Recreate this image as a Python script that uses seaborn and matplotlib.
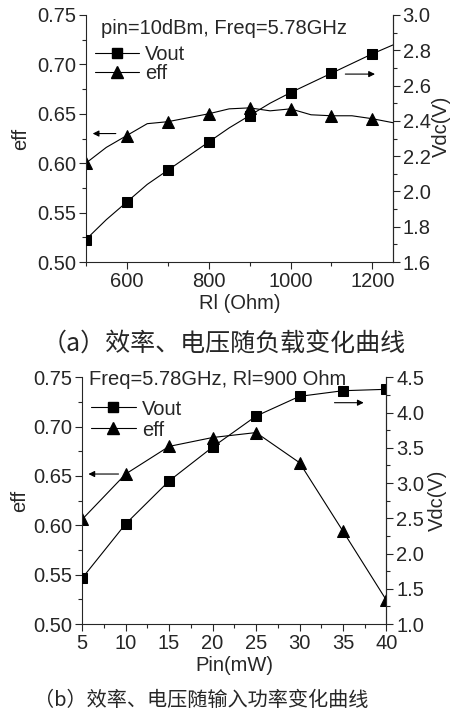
import matplotlib
matplotlib.use("Agg")
import matplotlib.pyplot as plt
from matplotlib.ticker import MultipleLocator, FormatStrFormatter
from matplotlib.lines import Line2D
import seaborn as sns

# (a) load sweep, pin = 10 dBm
rl = [500, 550, 600, 650, 700, 750, 800, 850, 900, 950, 1000, 1050, 1100, 1150, 1200, 1250]
vout_a = [1.727, 1.84, 1.94, 2.04, 2.12, 2.20, 2.28, 2.36, 2.43, 2.50, 2.56, 2.615, 2.67, 2.725, 2.78, 2.83]
eff_a = [0.600, 0.616, 0.628, 0.640, 0.642, 0.646, 0.650, 0.655, 0.656, 0.653, 0.655, 0.649, 0.648, 0.648, 0.645, 0.641]

# (b) input power sweep, Rl = 900 Ohm
pin = [5, 10, 15, 20, 25, 30, 35, 40]
vout_b = [1.65, 2.42, 3.03, 3.51, 3.95, 4.23, 4.31, 4.33]
eff_b = [0.606, 0.652, 0.680, 0.689, 0.694, 0.6635, 0.594, 0.524]

FS = 14.5

sns.set_style("ticks")
plt.rcParams["font.family"] = ["Liberation Sans", "Noto Sans CJK SC", "DejaVu Sans"]
plt.rcParams["font.size"] = FS

fig = plt.figure(figsize=(4.59, 7.13), dpi=100)
ax1 = fig.add_axes([0.187, 0.6325, 0.669, 0.3465])
ax3 = fig.add_axes([0.179, 0.1248, 0.663, 0.346])


def style(ax, ax2):
    for a in (ax, ax2):
        a.spines["top"].set_visible(False)
        a.tick_params(which="major", direction="out", length=5, width=0.8, pad=2, labelsize=FS)
        a.tick_params(which="minor", direction="out", length=3, width=0.8)
        for s in a.spines.values():
            s.set_linewidth(0.8)
    ax2.spines["right"].set_visible(True)
    ax2.spines["left"].set_visible(False)
    ax2.spines["bottom"].set_visible(False)


def draw(ax, x, vout, eff, every):
    ax2 = ax.twinx()
    sns.lineplot(x=x, y=eff, ax=ax, color="black", lw=0.8, marker="^",
                 markersize=8.5, markevery=every, markeredgecolor="black")
    sns.lineplot(x=x, y=vout, ax=ax2, color="black", lw=0.8, marker="s",
                 markersize=7.5, markevery=every, markeredgecolor="black")
    style(ax, ax2)
    return ax2


arrow = dict(arrowstyle="-|>", color="black", lw=0.8, mutation_scale=9)

# ---------------- (a) ----------------
ax2 = draw(ax1, rl, vout_a, eff_a, 2)
ax1.set_xlim(500, 1250)
ax1.set_ylim(0.50, 0.75)
ax2.set_ylim(1.6, 3.0)
ax1.xaxis.set_major_locator(MultipleLocator(200))
ax1.xaxis.set_minor_locator(MultipleLocator(100))
ax1.yaxis.set_major_locator(MultipleLocator(0.05))
ax1.yaxis.set_minor_locator(MultipleLocator(0.025))
ax2.yaxis.set_major_locator(MultipleLocator(0.2))
ax2.yaxis.set_minor_locator(MultipleLocator(0.1))
ax1.yaxis.set_major_formatter(FormatStrFormatter("%.2f"))
ax2.yaxis.set_major_formatter(FormatStrFormatter("%.1f"))
ax1.set_xlabel("Rl (Ohm)", fontsize=FS, labelpad=2)
ax1.set_ylabel("eff", fontsize=FS)
ax1.yaxis.set_label_coords(-0.18, 0.5)
ax2.set_ylabel("Vdc(V)", fontsize=FS, rotation=90)
ax2.yaxis.set_label_coords(1.127, 0.55)
ax1.text(0.051, 0.945, "pin=10dBm, Freq=5.78GHz", transform=ax1.transAxes,
         ha="left", va="center", fontsize=FS)
ax1.annotate("", xy=(510, 0.630), xytext=(580, 0.630), arrowprops=arrow)
ax2.annotate("", xy=(1213, 2.665), xytext=(1127, 2.665), arrowprops=arrow)

handles = [Line2D([], [], color="black", lw=0.8, marker="s", markersize=7.5),
           Line2D([], [], color="black", lw=0.8, marker="^", markersize=8.5)]
ax1.legend(handles, ["Vout", "eff"], loc="upper left", bbox_to_anchor=(0.03, 0.88),
           frameon=False, fontsize=FS, handlelength=2.2, handletextpad=0.3,
           labelspacing=0.0, borderpad=0, borderaxespad=0)

# ---------------- (b) ----------------
ax4 = draw(ax3, pin, vout_b, eff_b, 1)
ax3.set_xlim(5, 40)
ax3.set_ylim(0.50, 0.75)
ax4.set_ylim(1.0, 4.5)
ax3.xaxis.set_major_locator(MultipleLocator(5))
ax3.xaxis.set_minor_locator(MultipleLocator(2.5))
ax3.yaxis.set_major_locator(MultipleLocator(0.05))
ax3.yaxis.set_minor_locator(MultipleLocator(0.025))
ax4.yaxis.set_major_locator(MultipleLocator(0.5))
ax4.yaxis.set_minor_locator(MultipleLocator(0.25))
ax3.yaxis.set_major_formatter(FormatStrFormatter("%.2f"))
ax4.yaxis.set_major_formatter(FormatStrFormatter("%.1f"))
ax3.set_xlabel("Pin(mW)", fontsize=FS, labelpad=2)
ax3.set_ylabel("eff", fontsize=FS)
ax3.yaxis.set_label_coords(-0.175, 0.5)
ax4.set_ylabel("Vdc(V)", fontsize=FS, rotation=90)
ax4.yaxis.set_label_coords(1.136, 0.5)
ax3.text(0.023, 0.99, "Freq=5.78GHz, Rl=900 Ohm", transform=ax3.transAxes,
         ha="left", va="center", fontsize=FS)
ax3.annotate("", xy=(5.4, 0.652), xytext=(9.5, 0.652), arrowprops=arrow)
ax4.annotate("", xy=(37.7, 4.14), xytext=(33.7, 4.14), arrowprops=arrow)
ax3.legend(handles, ["Vout", "eff"], loc="upper left", bbox_to_anchor=(0.03, 0.91),
           frameon=False, fontsize=FS, handlelength=2.2, handletextpad=0.3,
           labelspacing=0.1, borderpad=0, borderaxespad=0)

# captions
fig.text(0.487, 0.516, "（a）效率、电压随负载变化曲线", ha="center", va="center",
         fontsize=18, family=["Noto Sans CJK SC", "DejaVu Sans"])
fig.text(0.438, 0.018, "（b）效率、电压随输入功率变化曲线", ha="center", va="center",
         fontsize=14.5, family=["Noto Sans CJK SC", "DejaVu Sans"])

fig.savefig("out.png", dpi=100)
